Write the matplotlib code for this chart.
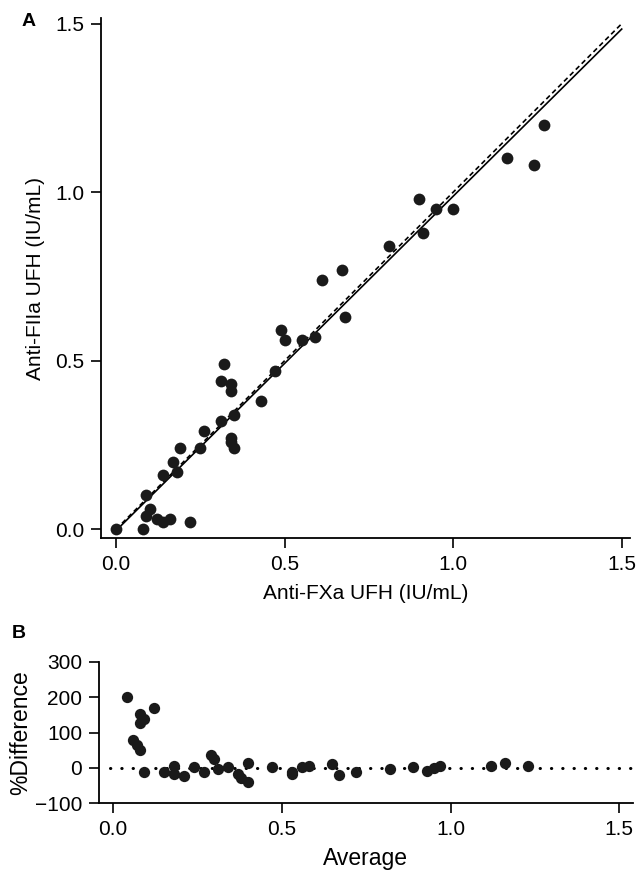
import numpy as np
import matplotlib
matplotlib.use("Agg")
import matplotlib.pyplot as plt

plt.rcParams["font.family"] = ["Liberation Sans", "DejaVu Sans"]

# ── Panel A: anti-FXa vs anti-FIIa ─────────────────────────────
anti_fxa = [0.00, 0.08, 0.09, 0.10, 0.09, 0.12, 0.14, 0.16, 0.22, 0.14,
            0.17, 0.18, 0.19, 0.25, 0.26, 0.31, 0.32, 0.31, 0.34, 0.34,
            0.34, 0.34, 0.35, 0.35, 0.43, 0.47, 0.49, 0.50, 0.55, 0.59,
            0.61, 0.67, 0.68, 0.81, 0.90, 0.91, 0.95, 1.00, 1.16, 1.24,
            1.27]
anti_fiia = [0.00, 0.00, 0.04, 0.06, 0.10, 0.03, 0.02, 0.03, 0.02, 0.16,
             0.20, 0.17, 0.24, 0.24, 0.29, 0.32, 0.49, 0.44, 0.43, 0.41,
             0.27, 0.26, 0.24, 0.34, 0.38, 0.47, 0.59, 0.56, 0.56, 0.57,
             0.74, 0.77, 0.63, 0.84, 0.98, 0.88, 0.95, 0.95, 1.10, 1.08,
             1.20]

# identity and regression lines
line_x = [0.0, 1.5]
identity_y = [0.0, 1.5]
regression_y = [-0.004, 1.484]

# ── Panel B: Bland-Altman ──────────────────────────────────────
ba_avg = [0.04, 0.08, 0.09, 0.08, 0.12, 0.06, 0.07, 0.08, 0.09, 0.15,
          0.18, 0.18, 0.21, 0.24, 0.27, 0.29, 0.30, 0.31, 0.34, 0.37,
          0.38, 0.40, 0.40, 0.47, 0.53, 0.53, 0.56, 0.58, 0.65, 0.67,
          0.72, 0.82, 0.89, 0.93, 0.95, 0.97, 1.12, 1.16, 1.23]
ba_diff = [201, 153, 139, 127, 170, 79, 65, 51, -11, -11,
           6, -17, -23, 3, -11, 37, 25, -3, 3, -17,
           -28, -41, 14, 3, -11, -17, 3, 6, 10, -20,
           -13, -3, 3, -8, 0, 6, 6, 14, 6]

fig = plt.figure(figsize=(6.43, 8.71), dpi=100)
dot = "#1a1a1a"

ax1 = fig.add_axes([0.157, 0.382, 0.823, 0.597])
ax1.plot(line_x, identity_y, color="black", lw=1.2, ls=(0, (3, 2)))
ax1.plot(line_x, regression_y, color="black", lw=1.2)
ax1.scatter(anti_fxa, anti_fiia, s=72, color=dot, zorder=3, linewidths=0)
ax1.set_xlim(-0.045, 1.525)
ax1.set_ylim(-0.027, 1.516)
ax1.set_xticks([0.0, 0.5, 1.0, 1.5])
ax1.set_yticks([0.0, 0.5, 1.0, 1.5])
ax1.set_xticklabels(["0.0", "0.5", "1.0", "1.5"])
ax1.set_yticklabels(["0.0", "0.5", "1.0", "1.5"])
ax1.set_xlabel("Anti-FXa UFH (IU/mL)", fontsize=15, labelpad=7)
ax1.set_ylabel("Anti-FIIa UFH (IU/mL)", fontsize=15, labelpad=7)

ax2 = fig.add_axes([0.154, 0.078, 0.830, 0.162])
ax2.axhline(0, xmin=0.02, color="black", lw=2.2, ls=(0, (0.1, 3.6)),
            dash_capstyle="round")
ax2.scatter(ba_avg, ba_diff, s=66, color=dot, zorder=3, linewidths=0)
ax2.set_xlim(-0.042, 1.54)
ax2.set_ylim(-100, 300)
ax2.set_xticks([0.0, 0.5, 1.0, 1.5])
ax2.set_xticklabels(["0.0", "0.5", "1.0", "1.5"])
ax2.set_yticks([-100, 0, 100, 200, 300])
ax2.set_xlabel("Average", fontsize=16.5, labelpad=6)
ax2.set_ylabel("%Difference", fontsize=16.5, labelpad=2)

for ax in (ax1, ax2):
    ax.spines["top"].set_visible(False)
    ax.spines["right"].set_visible(False)
    ax.spines["left"].set_linewidth(1.3)
    ax.spines["bottom"].set_linewidth(1.3)
    ax.tick_params(direction="out", length=7, width=1.2, labelsize=15, pad=5)

fig.text(0.034, 0.975, "A", fontsize=14, fontweight="bold", va="center")
fig.text(0.018, 0.273, "B", fontsize=14, fontweight="bold", va="center")

fig.savefig("out.png", dpi=100)
